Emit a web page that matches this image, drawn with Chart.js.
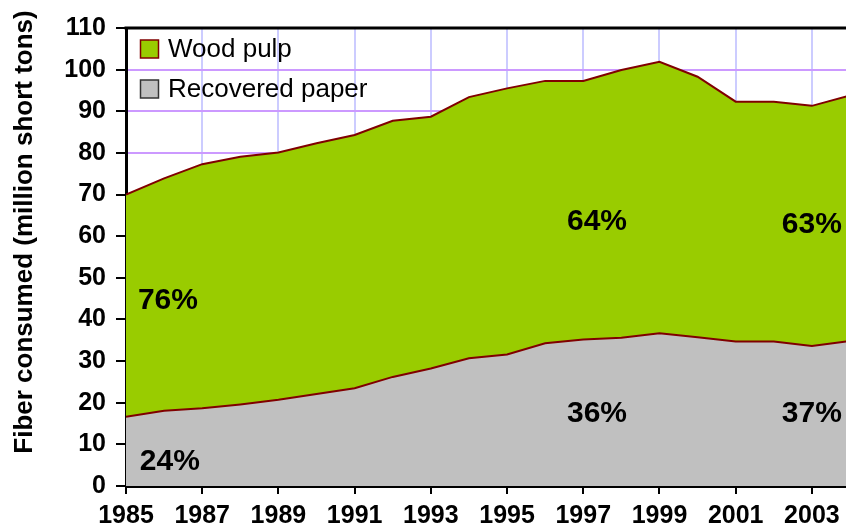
<!DOCTYPE html>
<html>
<head>
<meta charset="utf-8">
<script src="https://cdn.jsdelivr.net/npm/chart.js@4.4.0/dist/chart.umd.min.js"></script>
<style>
html, body { margin: 0; padding: 0; background: #fff; overflow: hidden; }
#fiberChart { display: block; }
</style>
</head>
<body>
<canvas id="fiberChart" width="852" height="531"></canvas>
<script>
const years = [1985, 1986, 1987, 1988, 1989, 1990, 1991, 1992, 1993, 1994,
               1995, 1996, 1997, 1998, 1999, 2000, 2001, 2002, 2003, 2004];
const recoveredPaper = [16.6, 18.1, 18.7, 19.6, 20.7, 22.1, 23.5, 26.2, 28.2, 30.7,
                        31.6, 34.3, 35.2, 35.6, 36.7, 35.7, 34.7, 34.7, 33.6, 34.8];
const woodPulp = [53.4, 55.8, 58.6, 59.5, 59.4, 60.2, 60.8, 61.5, 60.5, 62.7,
                  63.9, 63.0, 62.1, 64.3, 65.2, 62.6, 57.6, 57.6, 57.7, 59.0];
const xTickYears = [1985, 1987, 1989, 1991, 1993, 1995, 1997, 1999, 2001, 2003];

// share labels written on the areas (text, year, value)
const shareText = ['76%', '24%', '64%', '36%', '63%', '37%'];
const shareYear = [1986.1, 1986.15, 1997.36, 1997.36, 2003.0, 2003.0];
const shareValue = [44.4, 5.8, 63.4, 17.3, 62.7, 17.3];

const yTitle = 'Fiber consumed (million short tons)';

Chart.defaults.font.family = "'Liberation Sans', Arial, sans-serif";
Chart.defaults.color = '#000';

const ctx = document.querySelector('#fiberChart').getContext('2d');

const extras = {
    id: 'extras',
    afterDraw(chart) {
        const c = chart.ctx;
        const area = chart.chartArea;
        const xs = chart.scales.x;
        const ys = chart.scales.y;
        c.save();

        // top frame line
        c.strokeStyle = '#000';
        c.lineWidth = 3;
        c.beginPath();
        c.moveTo(area.left - 1.5, area.top);
        c.lineTo(area.right, area.top);
        c.stroke();

        // percentages
        c.fillStyle = '#000';
        c.font = "bold 30px 'Liberation Sans', Arial, sans-serif";
        c.textAlign = 'center';
        c.textBaseline = 'middle';
        shareText.forEach((t, i) => {
            c.fillText(t, xs.getPixelForValue(shareYear[i]), ys.getPixelForValue(shareValue[i]));
        });

        // legend (inside plot, top left)
        const items = [chart.data.datasets[1], chart.data.datasets[0]];
        const rows = [49, 89];
        c.font = "26px 'Liberation Sans', Arial, sans-serif";
        c.textAlign = 'left';
        items.forEach((ds, i) => {
            c.fillStyle = ds.backgroundColor;
            c.fillRect(140.5, rows[i] - 9, 18, 18);
            c.strokeStyle = ds.legendBorder;
            c.lineWidth = 1.5;
            c.strokeRect(140.5, rows[i] - 9, 18, 18);
            c.fillStyle = '#000';
            c.fillText(ds.label, 168, rows[i] + 1);
        });

        // y axis title
        c.translate(25, 232);
        c.rotate(-Math.PI / 2);
        c.font = "bold 26px 'Liberation Sans', Arial, sans-serif";
        c.textAlign = 'center';
        c.fillText(yTitle, 0, 0);
        c.restore();
    }
};

const chart = new Chart(ctx, {
    type: 'line',
    data: {
        datasets: [
            {
                label: 'Recovered paper',
                data: years.map((y, i) => ({ x: y, y: recoveredPaper[i] })),
                backgroundColor: '#c0c0c0',
                borderColor: '#800000',
                legendBorder: '#333333',
                borderWidth: 2,
                pointRadius: 0,
                tension: 0,
                fill: 'origin'
            },
            {
                label: 'Wood pulp',
                data: years.map((y, i) => ({ x: y, y: woodPulp[i] })),
                backgroundColor: '#99cc00',
                borderColor: '#800000',
                legendBorder: '#800000',
                borderWidth: 2,
                pointRadius: 0,
                tension: 0,
                fill: '-1'
            }
        ]
    },
    options: {
        responsive: false,
        animation: false,
        layout: { padding: { top: 28, right: 2, left: 0, bottom: 0 } },
        plugins: {
            legend: { display: false },
            tooltip: { enabled: false }
        },
        scales: {
            x: {
                type: 'linear',
                min: 1985,
                max: 2004,
                afterBuildTicks: s => { s.ticks = xTickYears.map(v => ({ value: v })); },
                afterFit: s => { s.height = 45; },
                grid: { color: '#ccccff', lineWidth: 2, tickColor: '#000', tickLength: 8, tickWidth: 2 },
                border: { color: '#000', width: 3 },
                ticks: {
                    autoSkip: false,
                    maxRotation: 0,
                    padding: 7,
                    color: '#000',
                    font: { size: 25, weight: 'bold' },
                    callback: v => String(v)
                }
            },
            y: {
                stacked: true,
                min: 0,
                max: 110,
                afterFit: s => { s.width = 126; },
                grid: { color: '#cc99ff', lineWidth: 2, tickColor: '#000', tickLength: 10, tickWidth: 2 },
                border: { color: '#000', width: 3 },
                ticks: {
                    stepSize: 10,
                    padding: 10,
                    color: '#000',
                    font: { size: 25, weight: 'bold' }
                }
            }
        }
    },
    plugins: [extras]
});
</script>
</body>
</html>
